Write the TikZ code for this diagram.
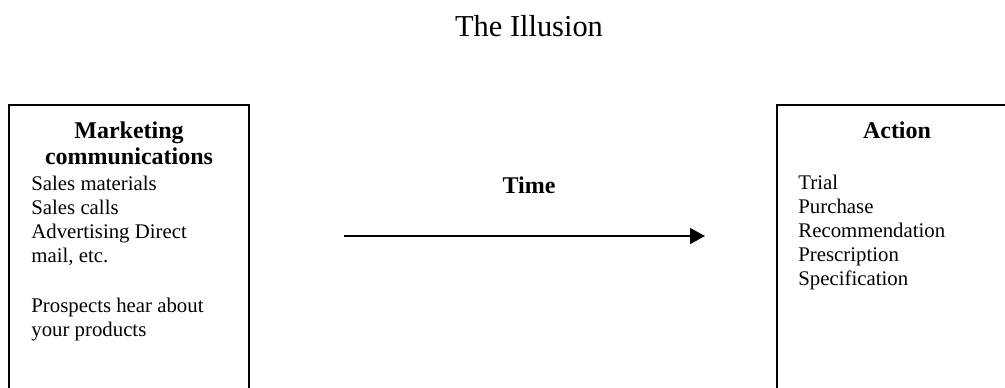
\documentclass[tikz,border=0pt]{standalone}
\usepackage{fontspec}
\setmainfont{Liberation Serif}
\usetikzlibrary{arrows.meta,positioning}
\tikzset{
  >={Triangle[length=7.5pt,width=8pt]},
  panel/.style={draw,line width=1pt,minimum width=120pt,minimum height=150pt,anchor=north,inner sep=0pt},
  head/.style={font=\fontsize{12}{13}\selectfont\bfseries,align=center,inner sep=0pt},
  items/.style={font=\fontsize{10.4}{12}\selectfont,align=left,inner sep=0pt},
  title/.style={font=\fontsize{15.2}{18}\selectfont,inner sep=0pt}
}

\begin{document}
\begin{tikzpicture}[x=0.5pt,y=-0.5pt]
\useasboundingbox (0,0) rectangle (1005,387);
\node[title,anchor=base](ttl) at (529,36){The Illusion};
% the two boxes run past the page edge
\node[panel](mc) at (129,104){};
\node[panel](act) at (897,104){};
% base anchor = baseline of the last line
\node[head,anchor=base](mchead) at (129,164){Marketing\\communications};
\node[items,anchor=base west](mclist) at (31,336){Sales materials\\Sales calls\\Advertising Direct\\mail, etc.\\[13pt]Prospects hear about\\your products};
\node[head,anchor=base](acthead) at (897,138){Action};
\node[items,anchor=base west](actlist) at (798,285){Trial\\Purchase\\Recommendation\\Prescription\\Specification};
\node[head,anchor=base](time) at (529,193){Time};
\coordinate (t0) at (344,236);
\coordinate (t1) at (705,236);
\draw[->,line width=0.7pt](t0)--(t1);
\end{tikzpicture}
\end{document}
